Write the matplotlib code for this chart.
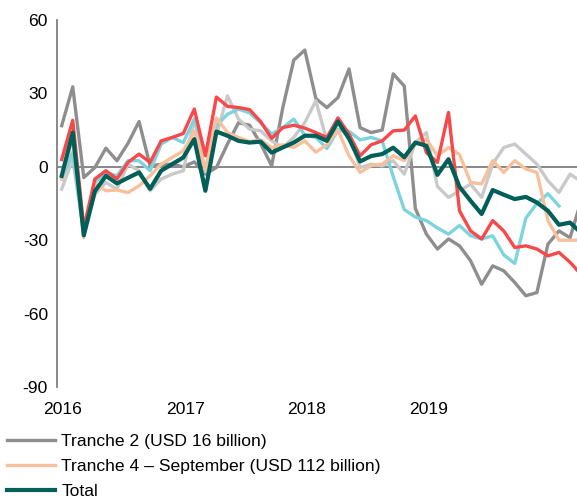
import matplotlib
matplotlib.use("Agg")
import matplotlib.pyplot as plt

plt.rcParams['font.family'] = ['Liberation Sans', 'DejaVu Sans']
plt.rcParams['axes.unicode_minus'] = False

# readings, one value per period
tranche2 = [16.8, 32.7, -4.4, -0.3, 7.6, 2.5, 9.6, 18.5, 0.4, 1, 1, 0, 2, -3, -0.3, 9.3,
            18, 17, 9.5, 0.4, 24, 43.6, 47.7, 27.9, 24.2, 28.3, 40, 16, 14, 15, 38, 33,
            -17, -27.5, -33.6, -29.5, -32.3, -38.4, -48, -40.5, -42.5, -47.3, -52.7, -51.4, -31.6, -26.2, -29, -14]
tranche1 = [-9.1, 3, -27, -11.2, -6.4, -9.1, 1.1, -1.6, -9.8, -5, -3, -1.6, 19.5, -2, 13, 29,
            19.5, 15.4, 14.7, 10.6, 7.9, 12, 18.1, 27, 10.6, 15.4, 13.4, -0.3, 1.1, 0.4, 2.5, -3,
            9.9, 14, -8, -12.5, -9.8, -7.1, -12.5, 1.1, 7.9, 9.3, 5.2, 1.1, -5.7, -10.5, -3, -6]
tranche3 = [-5, 6, -27, -6.4, -2.3, -3.7, 2.5, 2.5, -1.6, 9.3, 12, 9.9, 19.5, 6, 16.8, 21.5,
            23.6, 22, 18, 13.4, 16, 19.5, 13, 12, 7.5, 15, 14.5, 11, 12, 10.6, -4, -17.5,
            -20.5, -22, -25, -27.5, -24, -28.2, -29.5, -28.2, -36, -39.5, -21, -15, -11, -16, None, None]
tranche4_june = [3, 19, -25, -5, -1.6, -5, 1.8, 5.2, 1.8, 10.6, 12, 13.6, 23.6, 4.5, 28.5, 24.7,
                 24.2, 23.4, 18.5, 11.6, 16, 17, 15.8, 14, 12, 20, 13.4, 4.5, 9, 10.6, 14.7, 15,
                 20.8, 5.8, 1.8, 22.2, -18, -26.2, -29.5, -22, -26.2, -33, -32.3, -33.6, -36.4, -35, -39, -44]
tranche4_sep = [-5, 12, -29, -7, -9.8, -9.5, -10.5, -7.8, -3.7, 1.1, 3.8, 6.5, 14.5, -1, 20, 14,
                12, 10.3, 11, 7.9, 9, 7.9, 10.6, 6, 9, 15, 4.5, -2.3, 0.5, 1.1, 4.5, 2.5,
                9.3, 11.3, 4.5, 7.9, 5, -6.4, -7, 2.5, -2.3, 2.5, -0.9, -2.3, -22, -30, -30, -30]
total = [-3.7, 14, -28, -10, -3.7, -6.8, -4.5, -2.3, -9, -1.6, 1.1, 3.8, 11.3, -9.8, 14.4, 12.7,
         10.6, 9.9, 10.3, 5.8, 7.9, 9.9, 12.7, 12.7, 10.6, 18.5, 11.5, 2.2, 4.4, 5.2, 7.8, 3.9,
         9.9, 8.6, -3.3, 3.1, -8.2, -13.9, -19.3, -9.5, -11.4, -13.2, -12.3, -14.6, -18, -23.7, -22.8, -27]

years = ['2016', '2017', '2018', '2019']
year_pos = [0.1, 11.2, 22.2, 33.2]

x = list(range(len(total)))
fs = 12.6

fig = plt.figure(figsize=(5.77, 4.99), dpi=100)
ax = fig.add_axes([57/577, 1 - 387/499, 1 - 57/577, (387 - 20)/499])

ax.axhline(0, color='#7f7f7f', lw=1.3, zorder=1)

ax.plot(x, tranche2, color='#8e8e90', lw=2.4, label='Tranche 2 (USD 16 billion)', zorder=2)
ax.plot(x, tranche1, color='#c9c9c9', lw=2.4, label='_nolegend_', zorder=2)
ax.plot(x, [v if v is not None else float('nan') for v in tranche3],
        color='#7dd4de', lw=2.4, label='_nolegend_', zorder=3)
ax.plot(x, tranche4_sep, color='#f8c09d', lw=2.4,
        label='Tranche 4 \u2013 September (USD 112 billion)', zorder=3)
ax.plot(x, tranche4_june, color='#f8484a', lw=2.4, label='_nolegend_', zorder=4)
ax.plot(x, total, color='#005f57', lw=3.0, label='Total', zorder=5)

ax.set_xlim(-0.425, 46.63)
ax.set_ylim(-90, 60)
ax.set_yticks([-90, -60, -30, 0, 30, 60])
ax.set_xticks(year_pos)
ax.set_xticklabels(years)
ax.tick_params(axis='y', length=0, pad=6.5, labelsize=fs, colors='black')
ax.tick_params(axis='x', length=0, pad=10.5, labelsize=fs, colors='black')

for s in ['top', 'right', 'bottom']:
    ax.spines[s].set_visible(False)
ax.spines['left'].set_color('#808080')
ax.spines['left'].set_linewidth(1.3)

handles, labels = ax.get_legend_handles_labels()
fig.legend(handles, labels, loc='upper left', bbox_to_anchor=(7/577, 1 - 434/499),
           frameon=False, fontsize=fs, handlelength=2.75, handletextpad=0.35,
           labelspacing=0.56, borderpad=0, borderaxespad=0)

plt.savefig('out.png', dpi=100)
